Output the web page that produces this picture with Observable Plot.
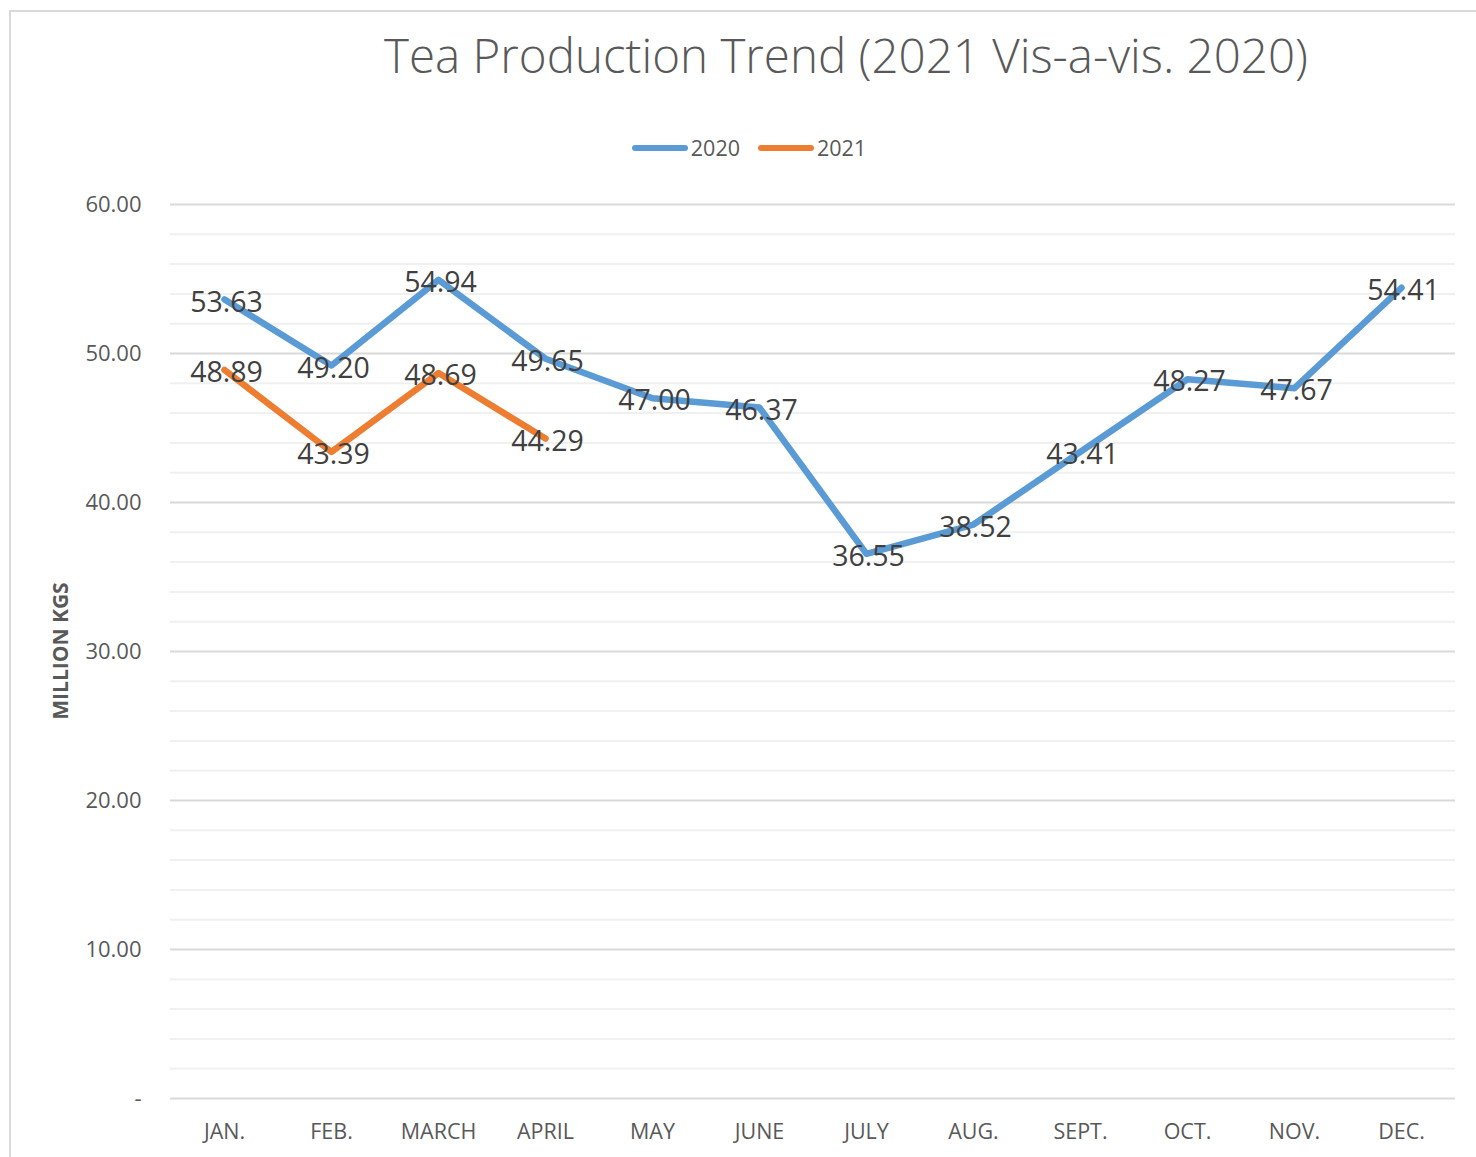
<!DOCTYPE html>
<html>
<head>
<meta charset="utf-8">
<script src="https://cdn.jsdelivr.net/npm/d3@7"></script>
<script src="https://cdn.jsdelivr.net/npm/@observablehq/plot@0.6"></script>
<style>
  html, body { margin: 0; padding: 0; width: 1476px; height: 1157px; overflow: hidden; background: #fff; }
  #frame { position: absolute; left: 9px; top: 10px; width: 1600px; height: 1300px; border: 2px solid #d9d9d9; box-sizing: border-box; }
  #title { position: absolute; width: 1476px; top: 22px; text-align: center; font-family: "Open Sans", sans-serif; font-weight: 300; font-size: 47.5px; color: #595959; white-space: nowrap; left: 108px; }
  #legend { position: absolute; top: 133px; width: 1476px; display: flex; justify-content: center; font-family: "Open Sans", sans-serif; font-size: 21.5px; color: #595959; left: 11px; }
  .item { display: flex; align-items: center; margin: 0 9px; }
  .sw { width: 56px; height: 6px; border-radius: 3px; margin-right: 3px; }
  #ylabel { position: absolute; left: 60px; top: 651px; transform: translate(-50%, -50%) rotate(-90deg); font-family: "Open Sans", sans-serif; font-weight: 700; font-size: 21px; color: #595959; white-space: nowrap; }
  #chart { position: absolute; left: 0; top: 180px; }
</style>
</head>
<body>
<div id="frame"></div>
<div id="title">Tea Production Trend (2021 Vis-a-vis. 2020)</div>
<div id="legend"></div>
<div id="ylabel">MILLION KGS</div>
<div id="chart"></div>
<script>
const months = ["JAN.", "FEB.", "MARCH", "APRIL", "MAY", "JUNE", "JULY", "AUG.", "SEPT.", "OCT.", "NOV.", "DEC."];
const values2020 = [53.63, 49.20, 54.94, 49.65, 47.00, 46.37, 36.55, 38.52, 43.41, 48.27, 47.67, 54.41];
const values2021 = [48.89, 43.39, 48.69, 44.29];
const seriesNames = ["2020", "2021"];
const seriesColors = ["#5B9BD5", "#ED7D31"];
const yTicks = [0, 10, 20, 30, 40, 50, 60];
const yMinorTicks = [2, 4, 6, 8, 12, 14, 16, 18, 22, 24, 26, 28, 32, 34, 36, 38, 42, 44, 46, 48, 52, 54, 56, 58];

const data = [
  ...values2020.map((v, i) => ({month: months[i], value: v, series: "2020"})),
  ...values2021.map((v, i) => ({month: months[i], value: v, series: "2021"}))
];

const legend = document.getElementById("legend");
seriesNames.forEach((s, i) => {
  const it = document.createElement("div");
  it.className = "item";
  it.innerHTML = `<div class="sw" style="background:${seriesColors[i]}"></div><span>${s}</span>`;
  legend.appendChild(it);
});

const font = '"Open Sans", sans-serif';
const chart = Plot.plot({
  width: 1476,
  height: 977,
  marginTop: 24,
  marginBottom: 59,
  marginLeft: 170,
  marginRight: 21,
  style: {fontFamily: font, background: "transparent", overflow: "visible"},
  x: {type: "point", domain: months, padding: 0.5},
  y: {domain: [0, 60]},
  color: {domain: seriesNames, range: seriesColors},
  marks: [
    Plot.ruleY(yMinorTicks, {stroke: "#f0f0f0", strokeWidth: 2}),
    Plot.ruleY(yTicks, {stroke: "#d9d9d9", strokeWidth: 2}),
    Plot.axisY({ticks: yTicks, tickSize: 0, tickPadding: 29, fontSize: 22, fill: "#595959",
      tickFormat: d => d === 0 ? "-" : d.toFixed(2), label: null}),
    Plot.axisX({tickSize: 0, tickPadding: 25, fontSize: 21.5, fill: "#595959", label: null}),
    Plot.line(data, {x: "month", y: "value", z: "series", stroke: "series", strokeWidth: 6.5, strokeLinecap: "round", strokeLinejoin: "round"}),
    Plot.text(data, {x: "month", y: "value", text: d => d.value.toFixed(2), fontSize: 28.5, fill: "#404040", dx: 2, dy: 3})
  ]
});
document.getElementById("chart").appendChild(chart);
</script>
</body>
</html>
